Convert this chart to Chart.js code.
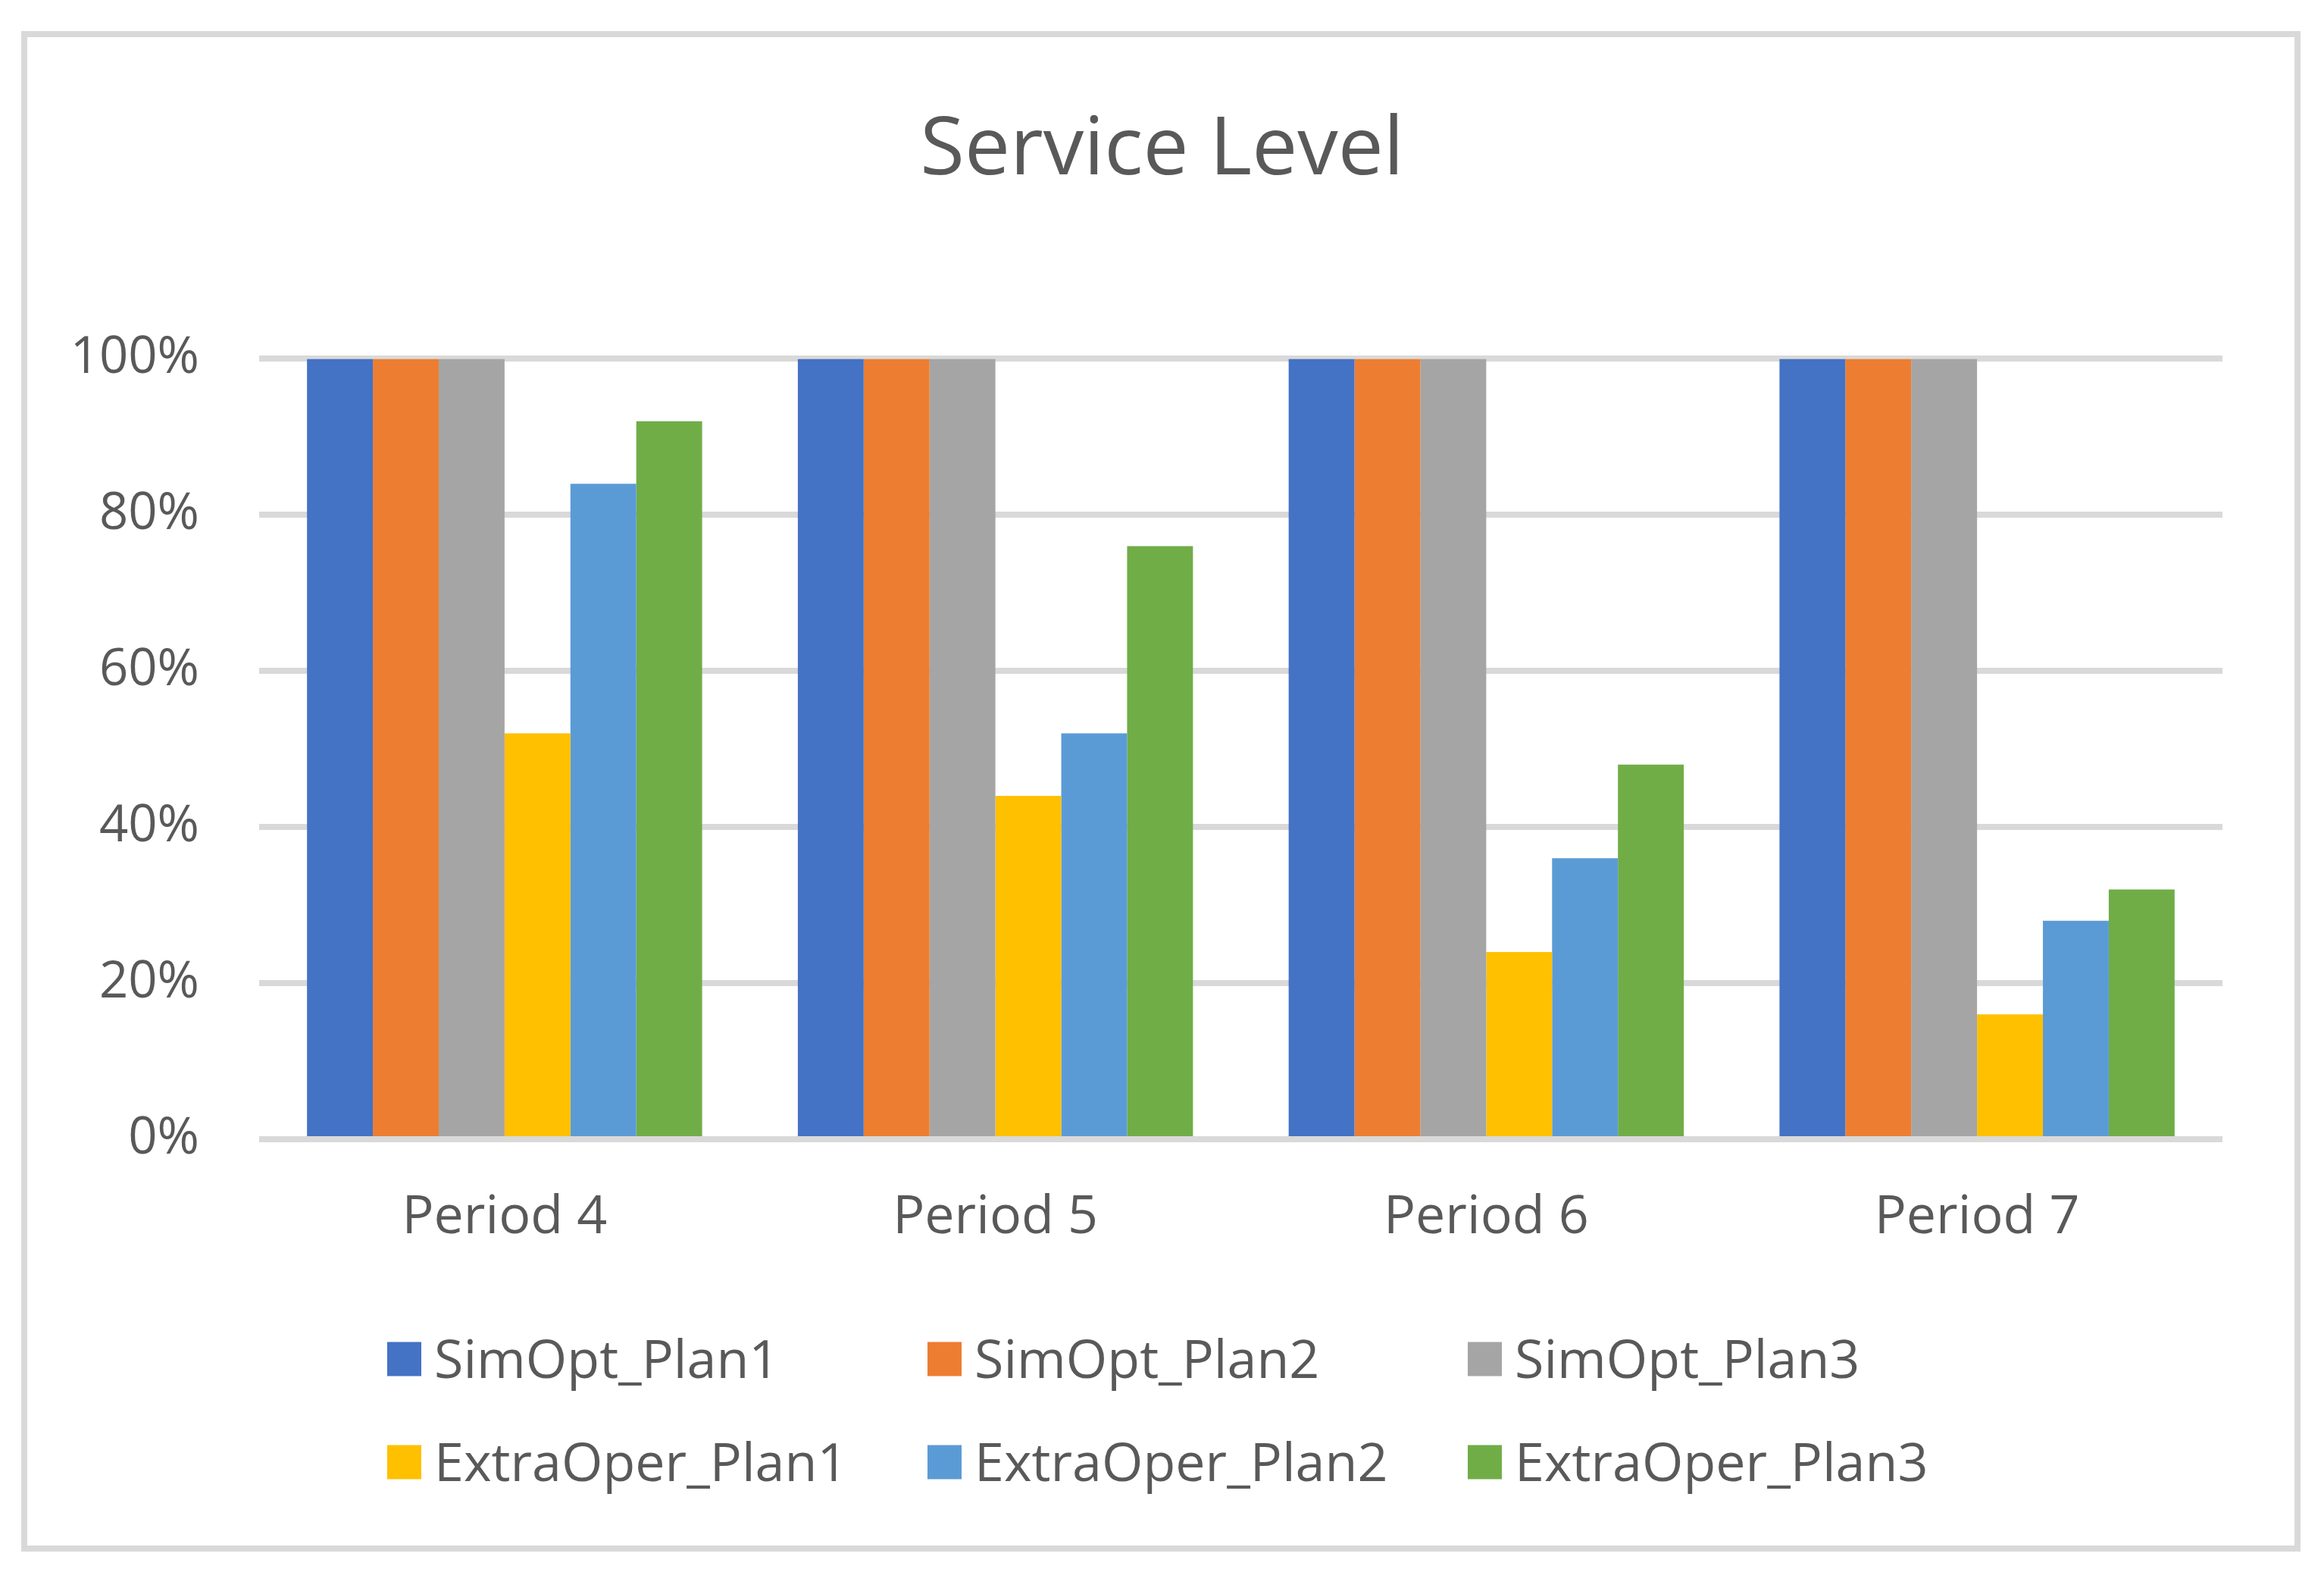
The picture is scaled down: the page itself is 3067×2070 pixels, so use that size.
<!DOCTYPE html>
<html>
<head>
<meta charset="utf-8">
<title>Service Level</title>
<script src="https://cdn.jsdelivr.net/npm/chart.js@4.4.1/dist/chart.umd.min.js"></script>
<style>
  html, body { margin: 0; padding: 0; background: #fff; }
  #wrap { width: 3067px; height: 2070px; }
</style>
</head>
<body>
<div id="wrap"><canvas id="service-chart" width="3067" height="2070"></canvas></div>
<script>
const periods = ["Period 4", "Period 5", "Period 6", "Period 7"];
const simOptPlan1 = [100, 100, 100, 100];
const simOptPlan2 = [100, 100, 100, 100];
const simOptPlan3 = [100, 100, 100, 100];
const extraOperPlan1 = [52, 44, 24, 16];
const extraOperPlan2 = [84, 52, 36, 28];
const extraOperPlan3 = [92, 76, 48, 32];
const yTicks = [0, 20, 40, 60, 80, 100];

const textColor = "#595959";
const gridColor = "#d9d9d9";
const fontFamily = "'Open Sans', 'Noto Sans', sans-serif";

// outer frame like the Excel chart area
const framePlugin = {
  id: "frame",
  beforeDraw(chart) {
    const ctx = chart.ctx;
    ctx.save();
    ctx.fillStyle = "#ffffff";
    ctx.fillRect(0, 0, chart.width, chart.height);
    ctx.strokeStyle = gridColor;
    ctx.lineWidth = 8;
    ctx.strokeRect(32, 45, 3000, 1998);
    ctx.restore();
  },
};

// legend in 3 aligned columns, 2 rows
const columnLegend = {
  id: "columnLegend",
  afterDraw(chart) {
    const ctx = chart.ctx;
    const colX = [511, 1224, 1937];
    const rowY = [1793, 1929];
    ctx.save();
    ctx.font = "70px " + fontFamily;
    ctx.textAlign = "left";
    ctx.textBaseline = "alphabetic";
    chart.data.datasets.forEach((ds, i) => {
      const x = colX[i % 3];
      const y = rowY[Math.floor(i / 3)];
      ctx.fillStyle = ds.backgroundColor;
      ctx.fillRect(x, y - 22.5, 45, 45);
      ctx.fillStyle = textColor;
      ctx.fillText(ds.label, x + 62, y + 25);
    });
    ctx.restore();
  },
};

const ctx = document.getElementById("service-chart").getContext("2d");
new Chart(ctx, {
  type: "bar",
  data: {
    labels: periods,
    datasets: [
      { label: "SimOpt_Plan1", data: simOptPlan1, backgroundColor: "#4472c4" },
      { label: "SimOpt_Plan2", data: simOptPlan2, backgroundColor: "#ed7d31" },
      { label: "SimOpt_Plan3", data: simOptPlan3, backgroundColor: "#a5a5a5" },
      { label: "ExtraOper_Plan1", data: extraOperPlan1, backgroundColor: "#ffc000" },
      { label: "ExtraOper_Plan2", data: extraOperPlan2, backgroundColor: "#5b9bd5" },
      { label: "ExtraOper_Plan3", data: extraOperPlan3, backgroundColor: "#70ad47" },
    ],
  },
  options: {
    responsive: false,
    animation: false,
    devicePixelRatio: 1,
    datasets: {
      bar: { categoryPercentage: 0.805, barPercentage: 1.0, borderWidth: 0 },
    },
    layout: { padding: { left: 0, right: 0, top: 0, bottom: 0 } },
    plugins: {
      legend: { display: false },
      tooltip: { enabled: false },
      title: {
        display: true,
        text: "Service Level",
        color: textColor,
        font: { family: fontFamily, size: 107, weight: "normal", lineHeight: 1.2 },
        padding: { top: 135, bottom: 210 },
      },
    },
    scales: {
      x: {
        grid: { display: false, drawTicks: false },
        border: { display: false },
        ticks: {
          color: textColor,
          font: { family: fontFamily, size: 70, lineHeight: 1.2 },
          padding: 62,
          maxRotation: 0,
        },
        afterFit(axis) {
          axis.height = 567;
        },
      },
      y: {
        min: 0,
        max: 100,
        grid: { color: gridColor, lineWidth: 8, drawTicks: false },
        border: { display: false },
        afterBuildTicks(axis) {
          axis.ticks = yTicks.map((v) => ({ value: v }));
        },
        ticks: {
          color: textColor,
          font: { family: fontFamily, size: 67, lineHeight: 1.2 },
          padding: 79,
          callback: (v) => v + "%",
        },
        afterFit(axis) {
          axis.width = 342;
        },
      },
      // empty right-hand spacer so the plot ends where the reference does
      yRight: {
        position: "right",
        min: 0,
        max: 100,
        grid: { display: false, drawTicks: false },
        border: { display: false },
        ticks: { display: false },
        afterFit(axis) {
          axis.width = 134;
        },
      },
    },
  },
  plugins: [framePlugin, columnLegend],
});
</script>
</body>
</html>
